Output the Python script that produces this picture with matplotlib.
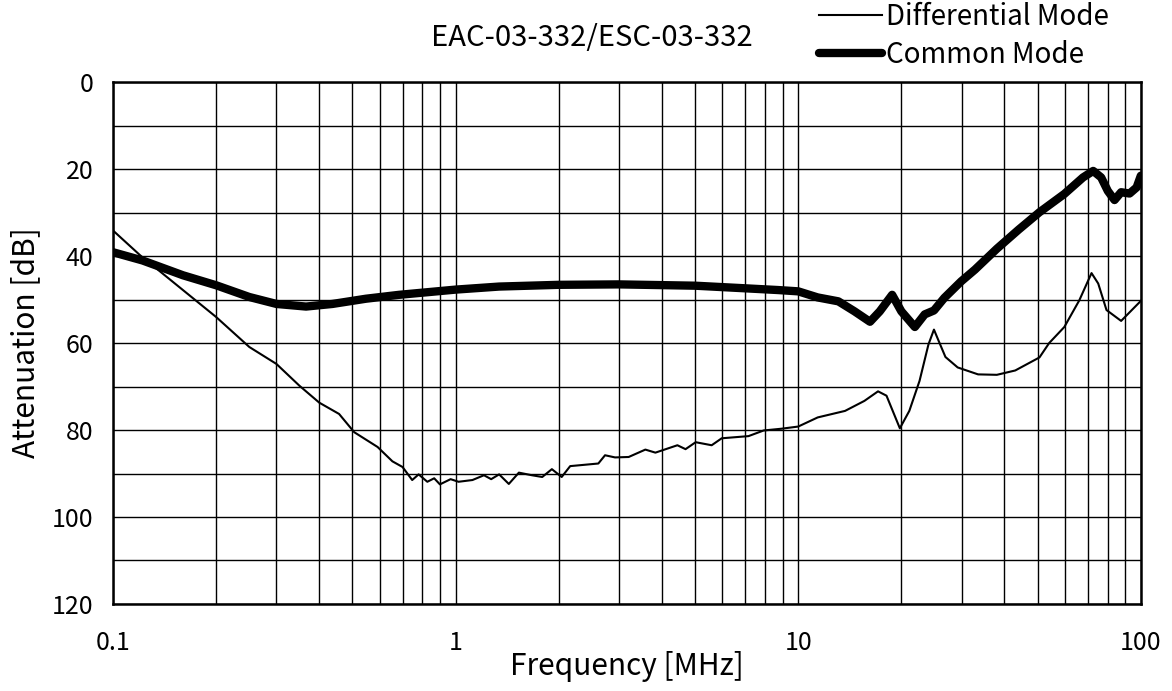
import numpy as np
import matplotlib
matplotlib.use("Agg")
import matplotlib.pyplot as plt
from matplotlib.ticker import FixedLocator, NullFormatter

# Differential mode (thin line), frequency in MHz, attenuation in dB
dm_freq = [0.1, 0.12, 0.2, 0.25, 0.3, 0.35, 0.4, 0.457, 0.506, 0.592, 0.654, 0.70,
           0.747, 0.78, 0.827, 0.866, 0.90, 0.967, 1.02, 1.12, 1.21, 1.27, 1.34,
           1.43, 1.53, 1.67, 1.79, 1.91, 2.04, 2.16, 2.61, 2.73, 2.92, 3.2, 3.58,
           3.83, 4.44, 4.69, 5.02, 5.59, 5.98, 7.16, 7.93, 8.93, 10.0, 11.4, 13.7,
           15.6, 17.1, 18.1, 19.8, 21.1, 22.6, 24.0, 24.9, 25.7, 26.9, 29.2, 33.5,
           38.0, 43.0, 50.6, 54.0, 59.8, 66.1, 71.8, 75.1, 79.4, 87.6, 100.0]
dm_att = [34.1, 39.8, 54.0, 60.9, 64.8, 69.8, 73.7, 76.3, 80.5, 83.9, 87.2, 88.5,
          91.5, 90.2, 91.9, 91.1, 92.5, 91.3, 91.9, 91.5, 90.4, 91.3, 90.2,
          92.4, 89.8, 90.4, 90.8, 89.0, 90.8, 88.3, 87.7, 85.8, 86.3, 86.2, 84.5,
          85.2, 83.5, 84.4, 82.8, 83.5, 81.9, 81.4, 80.1, 79.7, 79.2, 77.1, 75.6,
          73.3, 71.1, 72.1, 79.6, 75.6, 68.7, 60.3, 56.9, 59.5, 63.2, 65.6, 67.2,
          67.3, 66.3, 63.3, 60.0, 56.3, 50.2, 43.9, 46.3, 52.4, 54.9, 50.3]

# Common mode (thick line)
cm_freq = [0.1, 0.122, 0.16, 0.2, 0.25, 0.3, 0.366, 0.437, 0.547, 0.684, 1.0, 1.34,
           2.0, 3.0, 5.0, 7.0, 8.73, 10.0, 11.4, 13.1, 14.6, 16.2, 17.3, 18.8, 20.0,
           21.9, 23.4, 24.9, 26.7, 29.9, 32.8, 38.0, 44.0, 50.6, 59.8, 67.8, 72.6,
           76.6, 80.1, 83.8, 87.6, 92.7, 97.2, 100.0]
cm_att = [39.1, 41.0, 44.4, 46.7, 49.4, 51.0, 51.6, 51.0, 49.8, 48.9, 47.7, 47.0,
          46.6, 46.5, 46.8, 47.4, 47.8, 48.1, 49.5, 50.4, 52.7, 55.1, 52.7, 48.9, 52.7,
          56.3, 53.4, 52.5, 49.6, 45.8, 43.1, 38.3, 33.9, 29.9, 25.7, 21.9, 20.4,
          21.9, 25.0, 27.1, 25.3, 25.6, 24.2, 21.5]

x_ticks = [0.1, 1, 10, 100]
x_labels = ["0.1", "1", "10", "100"]
y_ticks = [0, 20, 40, 60, 80, 100, 120]

plt.rcParams['font.family'] = ['Noto Sans CJK JP', 'DejaVu Sans']

fig = plt.figure(figsize=(11.72, 6.91), dpi=100)
ax = fig.add_axes([0.0964, 0.126, 0.877, 0.755])

ax.plot(dm_freq, dm_att, color='black', lw=1.5, label='Differential Mode')
ax.plot(cm_freq, cm_att, color='black', lw=6, solid_capstyle='round',
        solid_joinstyle='round', label='Common Mode')

ax.set_xscale('log')
ax.set_xlim(0.1, 100)
ax.set_ylim(120, 0)

ax.set_xticks(x_ticks)
ax.set_xticklabels(x_labels)
minor_x = [m * d for d in [0.1, 1, 10] for m in range(2, 10)]
ax.xaxis.set_minor_locator(FixedLocator(minor_x))
ax.xaxis.set_minor_formatter(NullFormatter())
ax.set_yticks(y_ticks)
ax.yaxis.set_minor_locator(FixedLocator([10, 30, 50, 70, 90, 110]))

ax.grid(True, which='both', axis='both', color='black', lw=1.0)
ax.tick_params(which='both', length=0, labelsize=18)
ax.tick_params(axis='y', pad=14)
ax.tick_params(axis='x', pad=19)

for s in ax.spines.values():
    s.set_linewidth(1.8)

ax.set_xlabel('Frequency [MHz]', fontsize=21.5, labelpad=-4)
ax.set_ylabel('Attenuation [dB]', fontsize=21.5, labelpad=8)

fig.text(0.505, 1 - 38 / 691, 'EAC-03-332/ESC-03-332', fontsize=21, ha='center', va='center')

fig.legend(loc='center left', bbox_to_anchor=(819 / 1172, 1 - 36 / 691), frameon=False,
           fontsize=20, handlelength=2.27, handletextpad=0.15, labelspacing=0.3,
           borderpad=0.0, borderaxespad=0.0)

fig.savefig('out.png', dpi=100)
